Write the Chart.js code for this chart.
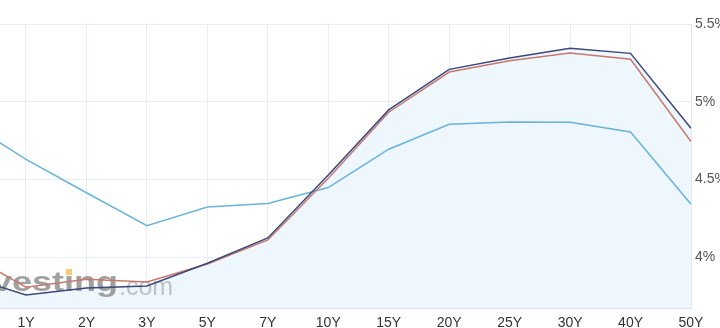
<!DOCTYPE html>
<html>
<head>
<meta charset="utf-8">
<script src="https://cdn.jsdelivr.net/npm/chart.js@4"></script>
<style>
  body { margin: 0; background: #fff; }
  canvas { display: block; }
</style>
</head>
<body>
<canvas id="myChart" width="720" height="328"></canvas>
<script>
const categories = ['6M', '1Y', '2Y', '3Y', '5Y', '7Y', '10Y', '15Y', '20Y', '25Y', '30Y', '40Y', '50Y'];

const current = [3.88, 3.756, 3.801, 3.814, 3.96, 4.123, 4.528, 4.947, 5.208, 5.281, 5.344, 5.311, 4.829];
const weekAgo = [4.028, 3.806, 3.857, 3.84, 3.955, 4.11, 4.507, 4.932, 5.191, 5.264, 5.313, 5.273, 4.743];
const monthAgo = [4.876, 4.629, 4.414, 4.202, 4.322, 4.344, 4.447, 4.694, 4.855, 4.869, 4.867, 4.805, 4.34];

const yTicks = [4, 4.5, 5, 5.5];

const toPoints = arr => arr.map((v, i) => ({ x: i, y: v }));

// investing.com watermark, cut off at the left edge like the original
const watermark = {
  id: 'watermark',
  beforeDatasetsDraw(chart) {
    const ctx = chart.ctx;
    ctx.save();
    ctx.font = 'bold 28px "Liberation Sans", Arial, sans-serif';
    ctx.textBaseline = 'alphabetic';
    const word = 'vest\u0131ng';
    const w = ctx.measureText(word).width;
    const sx = 126 / w;
    const x0 = -8;
    ctx.translate(x0, 291);
    ctx.scale(sx, 1);
    ctx.fillStyle = 'rgba(130,130,130,0.75)';
    ctx.fillText(word, 0, 0);
    // orange dot over the i
    const wi = ctx.measureText('vest').width;
    const iw = ctx.measureText('\u0131').width;
    ctx.fillStyle = 'rgba(247,190,90,0.85)';
    ctx.fillRect(wi + iw / 2 - 3 / sx * 1, -22, 6 / sx, 6);
    ctx.restore();

    ctx.save();
    ctx.font = '25px "Liberation Sans", Arial, sans-serif';
    ctx.fillStyle = 'rgba(160,160,160,0.6)';
    ctx.fillText('.com', 119, 295);
    ctx.restore();
  }
};

const ctx = document.getElementById('myChart').getContext('2d');
const chart = new Chart(ctx, {
  type: 'line',
  data: {
    datasets: [
      {
        label: 'Current',
        data: toPoints(current),
        borderColor: '#3b4879',
        borderWidth: 1.5,
        pointRadius: 0,
        fill: 'start',
        backgroundColor: '#eef7fe',
        tension: 0
      },
      {
        label: '1 week ago',
        data: toPoints(weekAgo),
        borderColor: '#c8786c',
        borderWidth: 1.5,
        pointRadius: 0,
        fill: false,
        tension: 0
      },
      {
        label: '1 month ago',
        data: toPoints(monthAgo),
        borderColor: '#6ab3da',
        borderWidth: 1.5,
        pointRadius: 0,
        fill: false,
        tension: 0
      }
    ]
  },
  options: {
    responsive: false,
    animation: false,
    layout: {
      padding: { top: 24, left: 0, right: 0, bottom: 0 }
    },
    plugins: {
      legend: { display: false },
      tooltip: { enabled: false },
      filler: { drawTime: 'beforeDatasetsDraw' }
    },
    scales: {
      x: {
        type: 'linear',
        min: 0.57,
        max: 12,
        afterBuildTicks: axis => {
          axis.ticks = categories.slice(1).map((c, i) => ({ value: i + 1 }));
        },
        afterFit: axis => { axis.height = 20; },
        ticks: {
          autoSkip: false,
          maxRotation: 0,
          padding: 7,
          color: '#333',
          font: { family: '"Liberation Sans", Arial, sans-serif', size: 14 },
          callback: v => categories[v]
        },
        grid: {
          color: '#e6edf6',
          drawTicks: false
        },
        border: { color: '#d9e2ee', width: 2 }
      },
      y: {
        position: 'right',
        min: 3.672,
        max: 5.5,
        afterBuildTicks: axis => {
          axis.ticks = yTicks.map(v => ({ value: v }));
        },
        afterFit: axis => { axis.width = 29; },
        ticks: {
          padding: 4,
          color: '#555',
          font: { family: '"Liberation Sans", Arial, sans-serif', size: 14 },
          callback: v => v + '%'
        },
        grid: {
          color: '#e6edf6',
          drawTicks: false
        },
        border: { color: '#e1e8f2', width: 1 }
      }
    }
  },
  plugins: [watermark]
});
</script>
</body>
</html>
